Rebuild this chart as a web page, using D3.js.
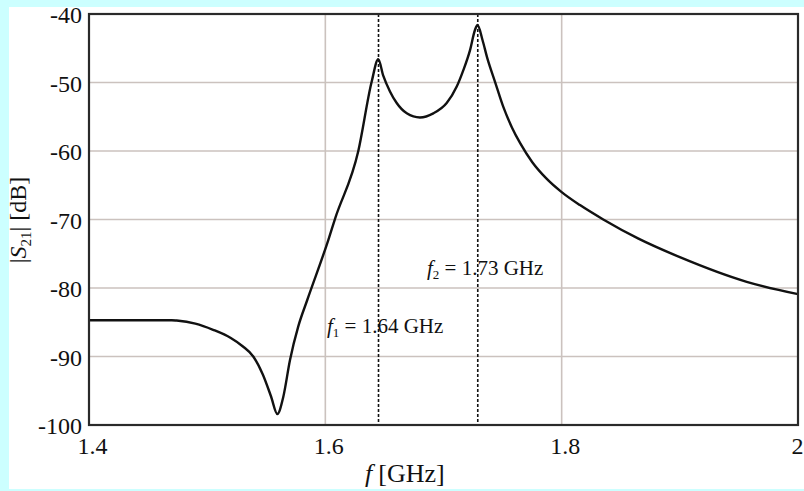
<!DOCTYPE html>
<html>
<head>
<meta charset="utf-8">
<script src="https://cdn.jsdelivr.net/npm/d3@7"></script>
<style>
  html, body { margin: 0; padding: 0; background: #ccffff; }
  svg { display: block; }
  text { font-family: "Liberation Serif", "DejaVu Serif", serif; fill: #111; }
</style>
</head>
<body>
<svg id="chart" width="804" height="491"></svg>
<script>
// |S21| response
const freqGHz = [1.400, 1.470, 1.4742, 1.490, 1.505, 1.520, 1.530, 1.539, 1.547, 1.554, 1.5594,
  1.5644, 1.5701, 1.5771, 1.5847, 1.6025, 1.6082, 1.6279, 1.6392, 1.6448,
  1.6490, 1.6547, 1.6604, 1.6689, 1.6801, 1.6914, 1.7027, 1.7112, 1.7168, 1.7224, 1.7267, 1.7288,
  1.7330, 1.7370, 1.7436, 1.7507, 1.7580, 1.7650, 1.7750, 1.7870, 1.8000, 1.8155, 1.8352,
  1.8650, 1.9000, 1.9566, 2.000];
const s21dB = [-84.7, -84.7, -84.75, -85.2, -86.1, -87.3, -88.5, -90.0, -92.6, -95.8, -98.4,
  -95.9, -90.5, -85.6, -81.75, -73.0, -69.9, -60.0, -49.9, -46.6,
  -49.0, -51.3, -53.0, -54.5, -55.1, -54.5, -53.0, -50.6, -48.2, -45.3, -42.3, -41.6,
  -43.8, -46.4, -49.9, -53.6, -56.6, -58.9, -61.6, -64.0, -66.0, -67.9, -70.0,
  -72.8, -75.5, -79.1, -80.9];

const xTicks = [1.4, 1.6, 1.8, 2];
const yTicks = [-40, -50, -60, -70, -80, -90, -100];
const markers = [
  { f: 1.645, label: "1.64 GHz", sub: "1" },
  { f: 1.729, label: "1.73 GHz", sub: "2" }
];

const svg = d3.select('#chart');
const plot = { left: 89, right: 798, top: 14, bottom: 425 };

const x = d3.scaleLinear().domain([1.4, 2]).range([plot.left, plot.right]);
const y = d3.scaleLinear().domain([-100, -40]).range([plot.bottom, plot.top]);

// white panel on the cyan page
svg.append('rect')
  .attr('x', 9).attr('y', 7).attr('width', 795).attr('height', 482)
  .attr('fill', '#fff');

// grid
svg.append('g')
  .selectAll('line')
  .data(yTicks.slice(1, -1))
  .join('line')
  .attr('x1', plot.left).attr('x2', plot.right)
  .attr('y1', d => y(d)).attr('y2', d => y(d))
  .attr('stroke', '#cbc2be').attr('stroke-width', 1.6);

svg.append('g')
  .selectAll('line')
  .data(xTicks.slice(1, -1))
  .join('line')
  .attr('x1', d => x(d)).attr('x2', d => x(d))
  .attr('y1', plot.top).attr('y2', plot.bottom)
  .attr('stroke', '#cbc2be').attr('stroke-width', 1.6);

// dotted resonance markers
svg.append('g')
  .selectAll('line')
  .data(markers)
  .join('line')
  .attr('x1', d => x(d.f)).attr('x2', d => x(d.f))
  .attr('y1', plot.top).attr('y2', plot.bottom)
  .attr('stroke', '#111').attr('stroke-width', 1.6)
  .attr('stroke-dasharray', '3,2');

// curve
const pts = freqGHz.map((f, i) => [f, s21dB[i]]);
svg.append('path')
  .datum(pts)
  .attr('fill', 'none')
  .attr('stroke', '#111')
  .attr('stroke-width', 2.4)
  .attr('stroke-linejoin', 'round')
  .attr('d', d3.line().x(d => x(d[0])).y(d => y(d[1])).curve(d3.curveMonotoneX));

// frame
svg.append('rect')
  .attr('x', plot.left).attr('y', plot.top)
  .attr('width', plot.right - plot.left).attr('height', plot.bottom - plot.top)
  .attr('fill', 'none').attr('stroke', '#2a2a2a').attr('stroke-width', 2.2);

// axes (labels only, no tick marks)
const yAxis = svg.append('g')
  .attr('transform', `translate(${plot.left},0)`)
  .call(d3.axisLeft(y).tickValues(yTicks).tickSize(0).tickPadding(7).tickFormat(d => String(d)));
yAxis.select('.domain').remove();
yAxis.selectAll('text')
  .style('font-family', '"Liberation Serif", serif')
  .style('font-size', '24px').attr('fill', '#111').attr('dy', '0.36em');

const xAxis = svg.append('g')
  .attr('transform', `translate(3,${plot.bottom})`)
  .call(d3.axisBottom(x).tickValues(xTicks).tickSize(0).tickPadding(12).tickFormat(d => d === 2 ? '2' : d3.format('.1f')(d)));
xAxis.select('.domain').remove();
xAxis.selectAll('text')
  .style('font-family', '"Liberation Serif", serif')
  .style('font-size', '24px').attr('fill', '#111');
// last label sits at the right edge; keep it inside the page
xAxis.selectAll('.tick').filter(d => d === 2).select('text')
  .attr('text-anchor', 'end').attr('x', 803 - x(2) - 3);

// axis titles
const xt = svg.append('text')
  .attr('x', 365).attr('y', 482)
  .style('font-size', '26px');
xt.append('tspan').attr('font-style', 'italic').text('f');
xt.append('tspan').attr('dx', 6).text('[GHz]');

const yt = svg.append('text')
  .attr('transform', 'translate(26,220) rotate(-90)')
  .attr('text-anchor', 'middle')
  .style('font-size', '24px');
yt.append('tspan').text('|');
yt.append('tspan').attr('font-style', 'italic').text('S');
yt.append('tspan').attr('font-size', '15px').attr('dy', 5).text('21');
yt.append('tspan').attr('dy', -5).text('| [dB]');

// marker annotations
const annPos = [{ x: 327, y: 333 }, { x: 427, y: 275 }];
markers.forEach((m, i) => {
  const t = svg.append('text')
    .attr('x', annPos[i].x).attr('y', annPos[i].y)
    .style('font-size', '21px');
  t.append('tspan').attr('font-style', 'italic').text('f');
  t.append('tspan').attr('font-size', '13px').attr('dy', 4).text(m.sub);
  t.append('tspan').attr('dy', -4).text(' = ' + m.label);
});
</script>
</body>
</html>
